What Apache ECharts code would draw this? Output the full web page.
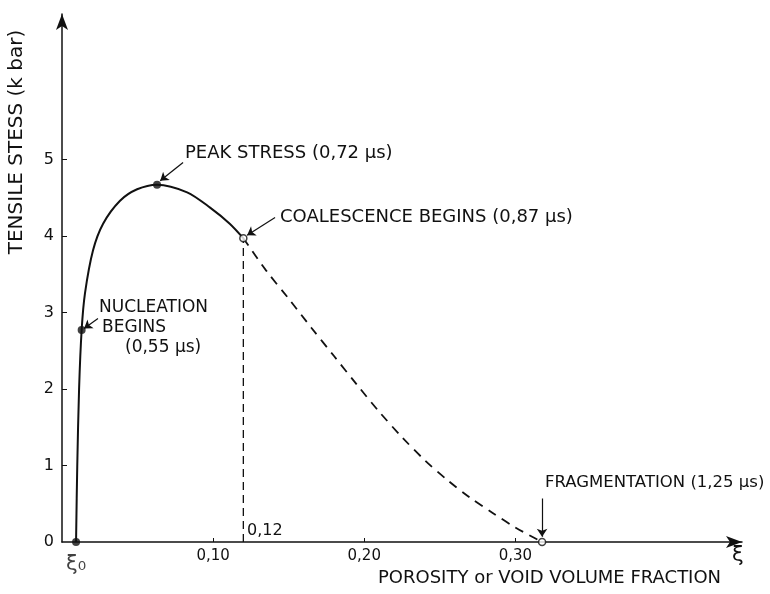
<!DOCTYPE html>
<html>
<head>
<meta charset="utf-8">
<script src="https://cdn.jsdelivr.net/npm/echarts@6/dist/echarts.min.js"></script>
<style>
  html, body { margin: 0; background: #fff; }
  #chart { width: 770px; height: 594px; }
</style>
</head>
<body>
<div id="chart"></div>
<script>
// tensile stress (kbar) vs porosity
const solidCurve = [[0.0093, 0], [0.0101, 1.0], [0.0113, 2.0], [0.0130, 2.77], [0.0152, 3.25],
  [0.0205, 3.81], [0.0272, 4.16], [0.0384, 4.46], [0.0497, 4.61], [0.0629, 4.67],
  [0.0828, 4.57], [0.098, 4.37], [0.111, 4.16], [0.12, 3.97]];
const dashedCurve = [[0.12, 3.97], [0.135, 3.55], [0.15, 3.18], [0.165, 2.80], [0.18, 2.43],
  [0.195, 2.06], [0.21, 1.70], [0.225, 1.37], [0.24, 1.07], [0.255, 0.81], [0.27, 0.58],
  [0.285, 0.38], [0.30, 0.19], [0.3177, 0]];
const coalescenceLine = [[0.12, 0], [0.12, 3.97]];
const filledPoints = [[0.0093, 0], [0.0130, 2.77], [0.0629, 4.67]];
const openPoints = [[0.12, 3.97], [0.3177, 0]];
const xTicks = [0.1, 0.12, 0.2, 0.3];
const xLabels = [0.1, 0.2, 0.3];
const yTicks = [1, 2, 3, 4, 5];
const yLabels = [0, 1, 2, 3, 4, 5];
const arrows = [
  [[0.0801, 4.96], [0.0650, 4.72]],
  [[0.141, 4.24], [0.1225, 4.01]],
  [[0.0238, 2.92], [0.0146, 2.79]],
  [[0.3177, 0.57], [0.3177, 0.07]]
];

const FONT = 'DejaVu Sans';
const INK = '#111';

const chart = echarts.init(document.getElementById('chart'));

function txt(text, x, y, size, extra) {
  return Object.assign({
    type: 'text', x: x, y: y,
    style: { text: text, fill: INK, font: size + 'px "' + FONT + '"', verticalAlign: 'middle' }
  }, extra || {});
}

chart.setOption({
  animation: false,
  backgroundColor: '#fff',
  textStyle: { fontFamily: FONT, color: INK },
  grid: { left: 62, right: 28, top: 14, bottom: 52 },
  xAxis: {
    type: 'value', min: 0, max: 0.45,
    splitLine: { show: false },
    axisLine: { symbol: ['none', 'arrow'], symbolSize: [9, 16], lineStyle: { color: INK, width: 1.5 } },
    axisTick: { inside: true, length: 4, customValues: xTicks, lineStyle: { color: INK } },
    axisLabel: {
      customValues: xLabels, color: INK, fontSize: 15, margin: 7,
      formatter: v => v.toFixed(2).replace('.', ',')
    }
  },
  yAxis: {
    type: 'value', min: 0, max: 6.9,
    splitLine: { show: false },
    axisLine: { symbol: ['none', 'arrow'], symbolSize: [9, 16], lineStyle: { color: INK, width: 1.5 } },
    axisTick: { inside: true, length: 5, customValues: yTicks, lineStyle: { color: INK } },
    axisLabel: { customValues: yLabels, color: INK, fontSize: 16, margin: 8 }
  },
  series: [
    {
      type: 'line', data: solidCurve, smooth: 0.3,
      showSymbol: false, lineStyle: { color: INK, width: 2 }
    },
    {
      type: 'line', data: dashedCurve, smooth: 0.3,
      showSymbol: false, lineStyle: { color: INK, width: 1.8, type: [9, 7] }
    },
    {
      type: 'line', data: coalescenceLine, showSymbol: false,
      lineStyle: { color: INK, width: 1.3, type: [8, 5] }
    },
    {
      type: 'lines', coordinateSystem: 'cartesian2d', z: 4,
      symbol: ['none', 'arrow'], symbolSize: 8,
      lineStyle: { color: INK, width: 1.2, opacity: 1 },
      data: arrows.map(a => ({ coords: a }))
    },
    {
      type: 'scatter', data: filledPoints, symbolSize: 8, z: 5,
      itemStyle: { color: INK },
      label: {
        show: true, position: 'bottom', distance: 8, fontSize: 21, color: INK,
        formatter: p => (p.dataIndex === 0 ? 'ξ₀' : '')
      }
    },
    {
      type: 'scatter', data: openPoints, symbolSize: 7, z: 5,
      itemStyle: { color: '#fff', borderColor: INK, borderWidth: 1.5 }
    }
  ],
  graphic: [
    txt('TENSILE STESS (k bar)', 17, 142, 20, { rotation: Math.PI / 2, style: { text: 'TENSILE STESS (k bar)', fill: INK, font: '20px "' + FONT + '"', align: 'center', verticalAlign: 'middle' } }),
    txt('POROSITY or VOID VOLUME FRACTION', 378, 578, 18),
    txt('ξ', 732, 556, 21),
    txt('0,12', 247, 531, 16),
    txt('PEAK STRESS (0,72 μs)', 185, 153, 18),
    txt('COALESCENCE BEGINS (0,87 μs)', 280, 217, 18),
    txt('NUCLEATION', 99, 308, 17),
    txt('BEGINS', 102, 328, 17),
    txt('(0,55 μs)', 125, 348, 17),
    txt('FRAGMENTATION (1,25 μs)', 545, 483, 16.5)
  ]
});
</script>
</body>
</html>
